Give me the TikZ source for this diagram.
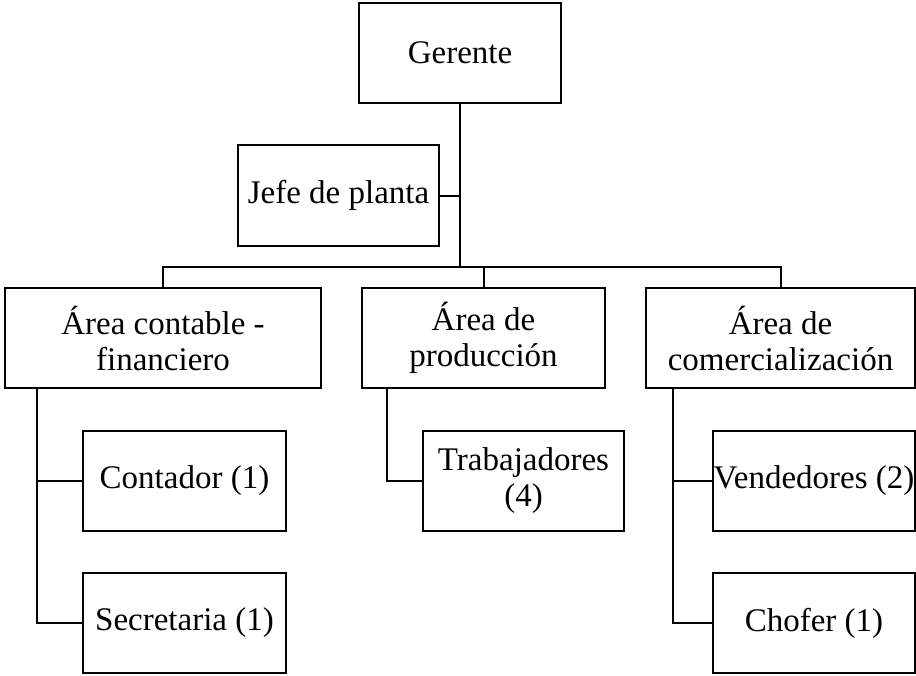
\documentclass[tikz,border=0pt]{standalone}
\usepackage{fontspec}
\setmainfont{Liberation Serif}

\begin{document}
\begin{tikzpicture}[x=0.5pt, y=-0.5pt, line width=1pt,
    caja/.style={draw, align=center, inner sep=0pt, minimum height=50pt,
        font=\fontsize{16.5}{18}\selectfont}]
        \useasboundingbox (0,0) rectangle (916,675);

        \node[caja, minimum width=101pt] (gerente) at (460,53) {Gerente};
        \node[caja, minimum width=100.5pt, minimum height=50.5pt] (jefe) at (338.5,195.5) {Jefe de planta};

        \node[caja, minimum width=158pt] (contable) at (163,338) {Área contable -\\financiero};
        \node[caja, minimum width=121.5pt] (produccion) at (483.5,338) {Área de\\producción};
        \node[caja, minimum width=134.5pt] (comercial) at (780.5,338) {Área de\\comercialización};

        \node[caja, minimum width=101.5pt] (contador) at (184.5,481) {Contador (1)};
        \node[caja, minimum width=101.5pt] (secretaria) at (184.5,623) {Secretaria (1)};
        \node[caja, minimum width=100.5pt] (trabajadores) at (523.5,481) {Trabajadores\\(4)};
        \node[caja, minimum width=101pt] (vendedores) at (814,481) {Vendedores (2)};
        \node[caja, minimum width=101pt] (chofer) at (814,623) {Chofer (1)};

        \coordinate (barra) at (460,267);
        \draw (gerente.south) -- (barra);
        \draw (jefe.east) -- (jefe.east -| barra);
        \draw (contable.north) |- (barra) -| (comercial.north);
        \draw (produccion.north) -- (produccion.north |- barra);

        \coordinate (ramac) at (37,388);
        \coordinate (ramap) at (387,388);
        \coordinate (ramav) at (673,388);
        \draw (ramac) |- (contador.west);
        \draw (ramac) |- (secretaria.west);
        \draw (ramap) |- (trabajadores.west);
        \draw (ramav) |- (vendedores.west);
        \draw (ramav) |- (chofer.west);
    \end{tikzpicture}
\end{document}
